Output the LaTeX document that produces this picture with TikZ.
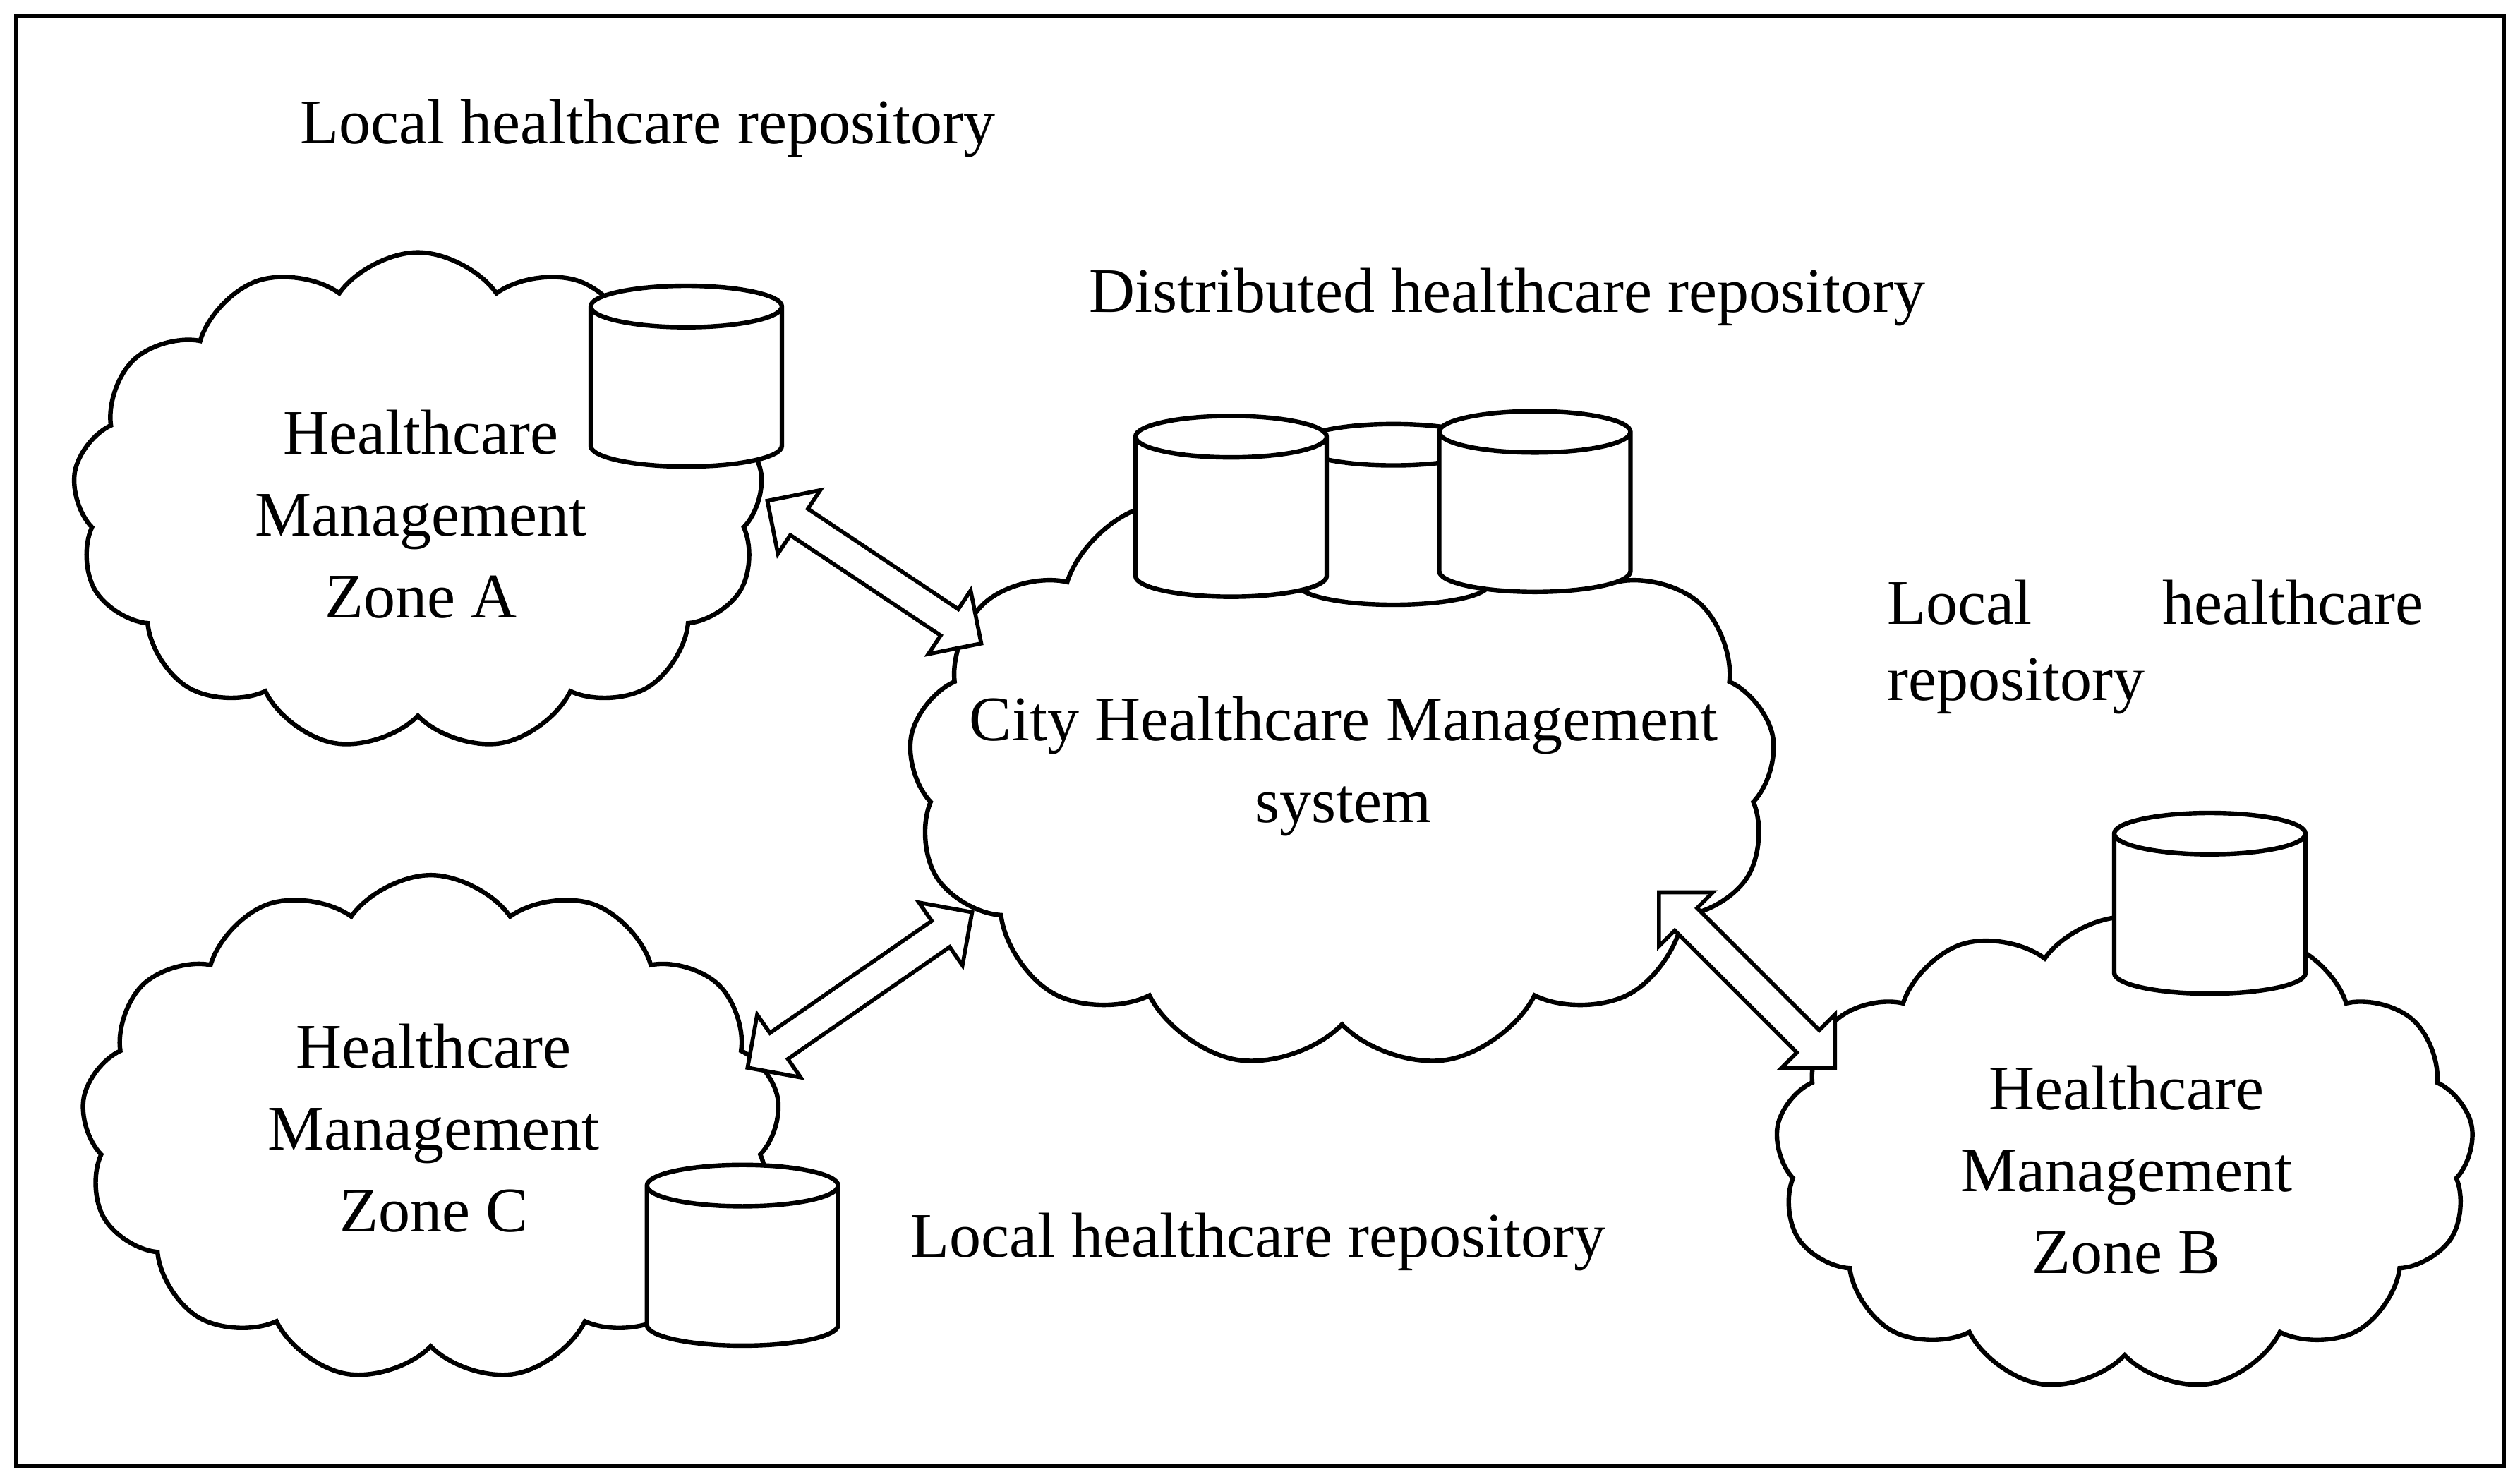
\documentclass[tikz,border=0pt]{standalone}
\usepackage{fontspec}
\setmainfont{Liberation Serif}
\usetikzlibrary{shapes.symbols,shapes.geometric,shapes.arrows}
\begin{document}
\begin{tikzpicture}[x=0.02cm,y=0.02cm,
  cl/.style={cloud,draw,fill=white,line width=1.6pt,cloud puffs=13,cloud puff arc=110,aspect=1.4},
  cyl/.style={cylinder,shape border rotate=90,draw,fill=white,line width=1.6pt,aspect=2.2,minimum width=2.38cm,minimum height=2.25cm},
  dar/.style={double arrow,draw,fill=white,line width=1.4pt,minimum width=0.95cm,double arrow head extend=0.2cm},
  txt/.style={font=\fontsize{22.5}{29}\selectfont,align=center}]
\useasboundingbox (0,0) rectangle (1568,-923);
\draw[line width=1.4pt] (10,-10) rectangle (1558,-912);
\node[cl,minimum width=8.6cm,minimum height=6.2cm] (cA) at (260,-312) {};
\node[cl,minimum width=8.7cm,minimum height=6.3cm] (cC) at (268,-702) {};
\node[cl,minimum width=8.7cm,minimum height=5.9cm] (cB) at (1322,-718) {};
\node[cl,minimum width=10.8cm,minimum height=7.4cm] (cS) at (835,-480) {};
\node[cyl] (dA) at (427,-244) {};
\node[cyl] (dM) at (867,-330) {};
\node[cyl] (dL) at (766,-325) {};
\node[cyl] (dR) at (955,-322) {};
\node[cyl] (dB) at (1375,-572) {};
\node[cyl] (dC) at (462,-791) {};
\node[dar,minimum height=3.2cm,rotate=-33.7] (aA) at (544,-356) {};
\node[dar,minimum height=3.4cm,rotate=34.7] (aC) at (535,-616) {};
\node[dar,minimum height=3.1cm,rotate=-45] (aB) at (1087,-610) {};
\node[txt] (tA) at (262,-320) {Healthcare\\Management\\Zone A};
\node[txt] (tC) at (270,-702) {Healthcare\\Management\\Zone C};
\node[txt] (tB) at (1323,-728) {Healthcare\\Management\\Zone B};
\node[txt] (tS) at (836,-477) {City Healthcare Management\\system};
\node[txt] (l1) at (403,-80) {Local healthcare repository};
\node[txt] (l2) at (938,-185) {Distributed healthcare repository};
\node[txt,anchor=west] (l3a) at (1168,-375) {Local};
\node[txt,anchor=east] (l3b) at (1514,-375) {healthcare};
\node[txt,anchor=west] (l3c) at (1168,-427) {repository};
\node[txt] (l4) at (783,-773) {Local healthcare repository};
\end{tikzpicture}
\end{document}
